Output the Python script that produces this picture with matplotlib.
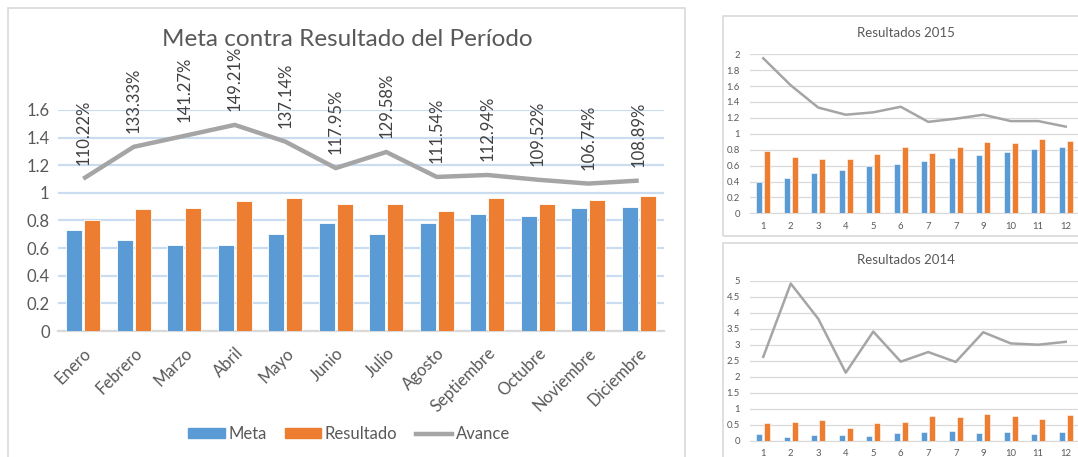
import matplotlib
matplotlib.use('Agg')
import matplotlib.pyplot as plt
from matplotlib.patches import Rectangle
from matplotlib.lines import Line2D
import numpy as np

plt.rcParams['font.family'] = ['Lato', 'DejaVu Sans']

# datos del periodo
meses = ['Enero', 'Febrero', 'Marzo', 'Abril', 'Mayo', 'Junio', 'Julio',
         'Agosto', 'Septiembre', 'Octubre', 'Noviembre', 'Diciembre']
meta = [0.73, 0.66, 0.625, 0.625, 0.70, 0.78, 0.705, 0.78, 0.85, 0.835, 0.89, 0.90]
resultado = [0.805, 0.88, 0.89, 0.94, 0.96, 0.92, 0.92, 0.87, 0.96, 0.92, 0.95, 0.98]
avance = [1.1022, 1.3333, 1.4127, 1.4921, 1.3714, 1.1795, 1.2958, 1.1154, 1.1294, 1.0952, 1.0674, 1.0889]
avance_txt = ['110.22%', '133.33%', '141.27%', '149.21%', '137.14%', '117.95%', '129.58%',
              '111.54%', '112.94%', '109.52%', '106.74%', '108.89%']

# resultados 2015
num_2015 = ['1', '2', '3', '4', '5', '6', '7', '7', '9', '10', '11', '12']
meta_2015 = [0.40, 0.44, 0.51, 0.55, 0.59, 0.62, 0.66, 0.70, 0.73, 0.77, 0.81, 0.84]
res_2015 = [0.78, 0.71, 0.68, 0.68, 0.75, 0.83, 0.76, 0.83, 0.90, 0.89, 0.94, 0.91]
linea_2015 = [1.95, 1.61, 1.33, 1.24, 1.27, 1.34, 1.15, 1.19, 1.24, 1.16, 1.16, 1.09]

# resultados 2014
num_2014 = ['1', '2', '3', '4', '5', '6', '7', '7', '9', '10', '11', '12']
meta_2014 = [0.21, 0.125, 0.17, 0.18, 0.15, 0.23, 0.27, 0.29, 0.25, 0.26, 0.21, 0.26]
res_2014 = [0.56, 0.58, 0.65, 0.40, 0.54, 0.57, 0.77, 0.74, 0.85, 0.78, 0.67, 0.80]
linea_2014 = [2.62, 4.91, 3.81, 2.125, 3.41, 2.47, 2.77, 2.46, 3.39, 3.04, 3.00, 3.09]

AZUL = '#5B9BD5'
NARANJA = '#ED7D31'
GRIS = '#A5A5A5'
TEXTO = '#595959'

W, H = 1078, 457
fig = plt.figure(figsize=(W / 100, H / 100), dpi=100)


def px(x0, y0, x1, y1):
    # caja en pixeles (origen arriba-izquierda) -> coordenadas de figura
    return [x0 / W, 1 - y1 / H, (x1 - x0) / W, (y1 - y0) / H]


# marcos de los paneles
for (x0, y0, x1, y1) in [(8, 8, 685, 470), (723, 16, 1090, 236), (723, 243, 1090, 470)]:
    fig.patches.append(Rectangle((x0 / W, 1 - y1 / H), (x1 - x0) / W, (y1 - y0) / H,
                                 transform=fig.transFigure, fill=False,
                                 edgecolor='#D9D9D9', linewidth=1.2))

# grafica principal
ax = fig.add_axes(px(58, 110, 664, 331))
x = np.arange(len(meses))
ax.bar(x - 0.175, meta, 0.32, color=AZUL, edgecolor='white', linewidth=0.6, zorder=3, label='Meta')
ax.bar(x + 0.175, resultado, 0.32, color=NARANJA, edgecolor='white', linewidth=0.6, zorder=3, label='Resultado')
ax.plot(x, avance, color=GRIS, linewidth=3.2, zorder=4, label='Avance', solid_capstyle='butt')
for xi, yi, t in zip(x, avance, avance_txt):
    ax.annotate(t, (xi, yi), xytext=(0, 10), textcoords='offset points', rotation=90,
                ha='center', va='bottom', fontsize=12, color='#404040', annotation_clip=False)
ax.set_xlim(-0.5, 11.5)
ax.set_ylim(0, 1.6)
ax.set_yticks(np.arange(0, 1.61, 0.2))
ax.set_yticklabels(['0', '0.2', '0.4', '0.6', '0.8', '1', '1.2', '1.4', '1.6'])
ax.set_xticks(x)
ax.set_xticklabels(meses, rotation=45, ha='right', rotation_mode='anchor')
ax.tick_params(length=0, labelsize=12, colors=TEXTO, pad=6)
ax.tick_params(axis='x', pad=10)
ax.grid(axis='y', color='#C9DCF0', linewidth=1.6, zorder=0)
for s in ['top', 'right', 'left']:
    ax.spines[s].set_visible(False)
ax.spines['bottom'].set_color('#D9D9D9')
ax.spines['bottom'].set_linewidth(1.6)
fig.text(347 / W, 1 - 40 / H, 'Meta contra Resultado del Período', ha='center', va='center',
         fontsize=17.5, color=TEXTO)
h = [Rectangle((0, 0), 1, 1, color=AZUL), Rectangle((0, 0), 1, 1, color=NARANJA),
     Line2D([], [], color=GRIS, linewidth=3.2)]
fig.legend(h, ['Meta', 'Resultado', 'Avance'], loc='center', bbox_to_anchor=(349 / W, 1 - 434 / H),
           ncol=3, frameon=False, fontsize=12, labelcolor=TEXTO, handlelength=2.2,
           handleheight=0.5, handletextpad=0.2, columnspacing=1.1)


def pequena(caja, titulo, y_tit, etiquetas, m, r, lin, ymax, paso):
    a = fig.add_axes(px(*caja))
    xs = np.arange(len(etiquetas))
    a.bar(xs - 0.14, m, 0.22, color=AZUL, edgecolor='white', linewidth=0.4, zorder=3)
    a.bar(xs + 0.14, r, 0.22, color=NARANJA, edgecolor='white', linewidth=0.4, zorder=3)
    a.plot(xs, lin, color=GRIS, linewidth=1.8, zorder=4)
    a.set_xlim(-0.5, 11.5)
    a.set_ylim(0, ymax)
    ticks = np.arange(0, ymax + paso / 2, paso)
    a.set_yticks(ticks)
    a.set_yticklabels([('%.1f' % t).rstrip('0').rstrip('.') for t in ticks])
    a.set_xticks(xs)
    a.set_xticklabels(etiquetas)
    a.tick_params(length=0, labelsize=6.8, colors=TEXTO, pad=7)
    a.tick_params(axis='x', pad=6)
    a.grid(axis='y', color='#D9D9D9', linewidth=0.9, zorder=0)
    for s in ['top', 'right', 'left']:
        a.spines[s].set_visible(False)
    a.spines['bottom'].set_color('#D9D9D9')
    fig.text(906 / W, 1 - y_tit / H, titulo, ha='center', va='center', fontsize=9.5, color=TEXTO)


pequena((749.5, 54.3, 1079.5, 213.3), 'Resultados 2015', 33, num_2015,
        meta_2015, res_2015, linea_2015, 2, 0.2)
pequena((749.5, 280.7, 1079.5, 440.7), 'Resultados 2014', 260, num_2014,
        meta_2014, res_2014, linea_2014, 5, 0.5)

plt.savefig('out.png', dpi=100)
